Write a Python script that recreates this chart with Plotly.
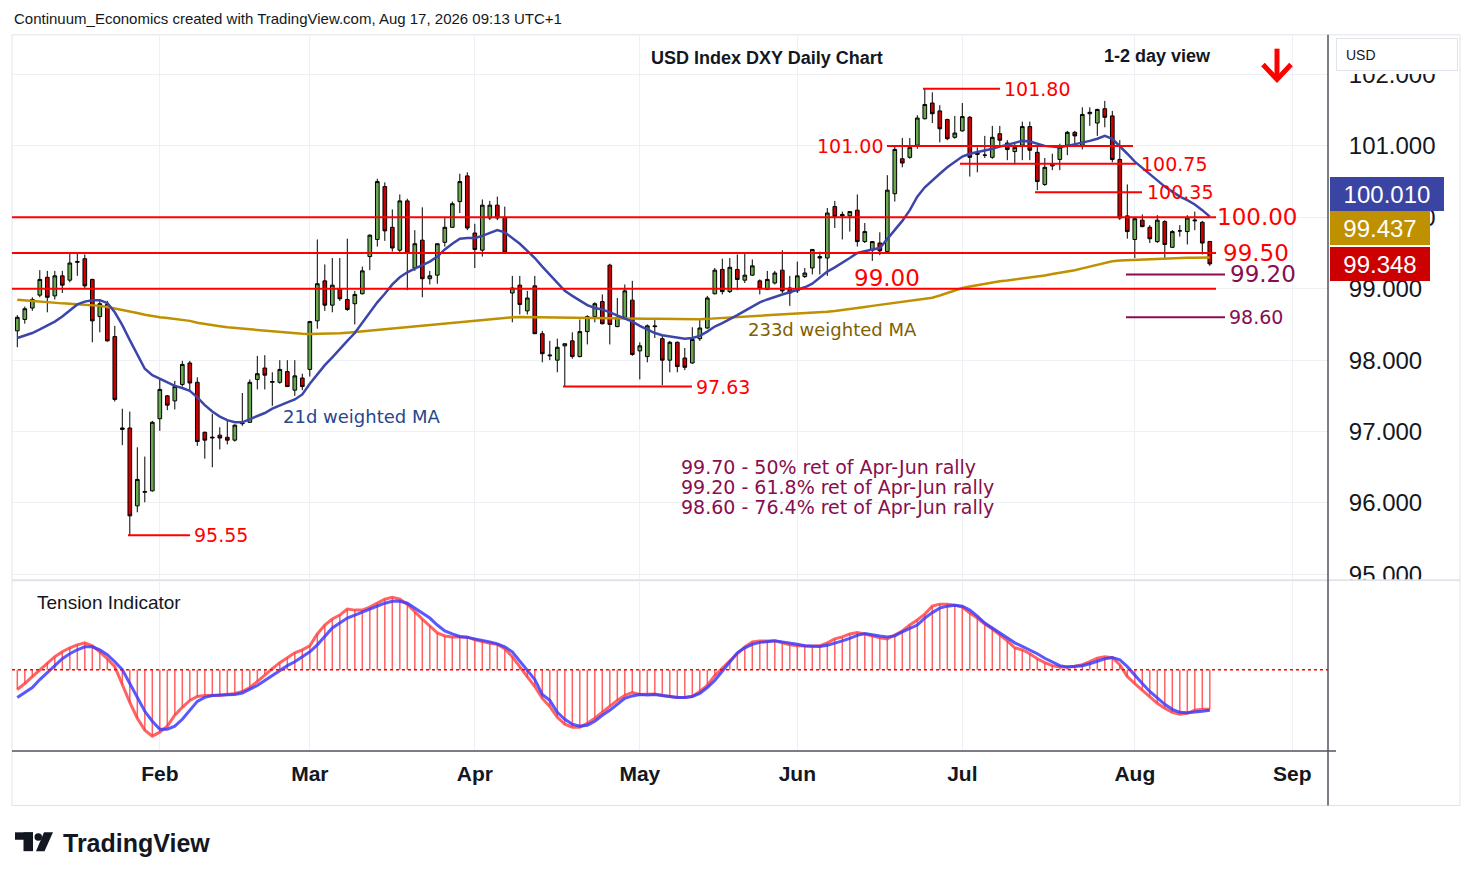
import pandas as pd
import plotly.graph_objects as go

W, H = 1474, 887
PAGE_PAD = 8  # the page body margin around the figure
FIG_W, FIG_H = W - 2 * PAGE_PAD, H - 2 * PAGE_PAD

# daily bars, Jan 6 - Aug 17 2026
dates = pd.bdate_range("2026-01-06", "2026-08-17")

opens = [98.41, 98.57, 98.73, 98.91, 99.16, 98.90, 99.18, 99.12, 99.37, 99.42,
         99.13, 98.61, 98.78, 98.33, 97.03, 97.05, 95.96, 96.15, 96.17, 97.18,
         97.50, 97.43, 97.66, 97.96, 97.69, 96.99, 96.91, 96.95, 96.92, 96.88,
         97.11, 97.13, 97.73, 97.89, 97.69, 97.69, 97.84, 97.58, 97.75, 97.87,
         98.55, 99.11, 98.77, 99.00, 98.85, 98.79, 98.93, 99.45, 99.69, 100.43,
         99.86, 99.54, 100.23, 99.29, 99.68, 99.14, 99.19, 99.65, 99.86, 100.22,
         100.58, 99.78, 99.54, 99.99, 100.17, 100.00, 98.94, 99.05, 98.69, 99.04,
         98.37, 98.06, 98.00, 98.20, 98.27, 98.05, 98.40, 98.61, 98.82, 99.33,
         98.47, 98.60, 98.84, 98.13, 98.05, 98.48, 98.30, 98.00, 98.25, 98.03,
         97.96, 98.30, 98.45, 98.93, 99.27, 98.96, 99.27, 99.12, 99.19, 99.11,
         98.99, 99.08, 99.26, 99.01, 98.97, 99.17, 99.29, 99.45, 99.43, 100.15,
         100.04, 100.02, 100.10, 99.66, 99.54, 99.64, 99.52, 100.33, 100.82, 100.84,
         101.01, 101.38, 101.60, 101.49, 101.37, 101.12, 101.21, 101.40, 100.91, 100.87,
         100.84, 101.17, 101.04, 100.92, 101.01, 101.27, 100.91, 100.46, 100.72, 100.81,
         101.01, 101.19, 101.01, 101.45, 101.32, 101.52, 101.42, 100.81, 100.02, 99.69,
         99.96, 99.86, 99.66, 99.94, 99.58, 99.81, 99.80, 99.95, 99.93, 99.662]

highs = [98.63, 98.75, 98.88, 99.26, 99.25, 99.25, 99.25, 99.50, 99.50, 99.48,
         99.14, 98.85, 98.83, 98.48, 97.32, 97.28, 96.78, 96.65, 97.15, 97.73,
         97.51, 97.71, 97.99, 97.99, 97.76, 97.00, 97.25, 97.06, 97.15, 97.10,
         97.54, 97.73, 98.06, 98.07, 97.83, 98.00, 98.00, 98.00, 97.81, 98.55,
         99.69, 99.34, 99.43, 99.43, 99.70, 98.97, 99.31, 99.76, 100.54, 100.49,
         100.11, 100.32, 100.26, 99.82, 100.14, 99.25, 99.63, 99.99, 100.22, 100.61,
         100.63, 99.91, 100.25, 100.23, 100.29, 100.15, 99.18, 99.18, 98.97, 99.18,
         98.41, 98.27, 98.30, 98.23, 98.39, 98.57, 98.63, 98.81, 98.92, 99.35,
         98.87, 99.06, 99.11, 98.25, 98.50, 98.57, 98.34, 98.27, 98.26, 98.17,
         98.46, 98.59, 98.90, 99.29, 99.42, 99.43, 99.48, 99.50, 99.41, 99.13,
         99.25, 99.25, 99.54, 99.18, 99.38, 99.29, 99.55, 99.52, 100.13, 100.23,
         100.08, 100.08, 100.32, 99.92, 99.66, 99.79, 100.59, 101.01, 101.11, 101.11,
         101.43, 101.80, 101.75, 101.57, 101.38, 101.42, 101.60, 101.42, 100.98, 101.14,
         101.28, 101.28, 101.08, 101.03, 101.34, 101.34, 101.01, 100.83, 100.89, 101.03,
         101.21, 101.21, 101.54, 101.54, 101.52, 101.63, 101.49, 101.08, 100.46, 99.99,
         100.04, 99.89, 100.03, 99.96, 99.82, 99.89, 100.03, 100.08, 99.95, 99.662]

lows = [98.18, 98.51, 98.69, 98.88, 98.67, 98.85, 98.94, 99.09, 99.18, 99.01,
        98.25, 98.39, 98.26, 97.42, 96.81, 95.55, 95.87, 96.01, 96.16, 97.01,
        97.30, 97.31, 97.63, 97.57, 96.80, 96.62, 96.50, 96.75, 96.82, 96.86,
        97.08, 97.12, 97.59, 97.59, 97.36, 97.67, 97.63, 97.50, 97.58, 97.77,
        98.44, 98.69, 98.67, 98.83, 98.69, 98.50, 98.92, 99.26, 99.59, 99.67,
        99.52, 99.50, 98.98, 99.25, 98.88, 99.06, 99.07, 99.59, 99.85, 100.06,
        99.82, 99.29, 99.45, 99.96, 99.96, 99.50, 98.53, 98.64, 98.64, 98.37,
        97.97, 98.00, 97.83, 97.63, 98.02, 98.04, 98.22, 98.53, 98.50, 98.22,
        98.46, 98.57, 98.06, 97.73, 97.97, 98.31, 97.65, 97.83, 97.83, 97.86,
        97.95, 98.27, 98.44, 98.92, 98.92, 98.94, 98.98, 99.08, 99.18, 98.92,
        98.98, 99.06, 98.94, 98.76, 98.94, 99.15, 99.20, 99.20, 99.18, 99.85,
        99.69, 99.80, 99.59, 99.64, 99.39, 99.47, 99.51, 100.22, 100.70, 100.82,
        100.96, 101.37, 101.32, 101.05, 101.08, 101.10, 101.20, 100.57, 100.63, 100.83,
        100.82, 101.01, 100.80, 100.74, 100.80, 100.80, 100.38, 100.44, 100.66, 100.66,
        100.87, 101.03, 100.95, 101.28, 101.14, 101.26, 100.77, 99.96, 99.70, 99.43,
        99.86, 99.64, 99.64, 99.41, 99.57, 99.73, 99.62, 99.82, 99.48, 99.32]

closes = [98.60, 98.72, 98.85, 99.13, 98.88, 99.18, 99.05, 99.36, 99.38, 99.04,
          98.55, 98.79, 98.27, 97.45, 97.05, 95.82, 96.33, 96.16, 97.13, 97.59,
          97.37, 97.63, 97.94, 97.68, 96.86, 96.88, 96.92, 96.91, 96.88, 97.09,
          97.12, 97.69, 97.81, 97.79, 97.70, 97.87, 97.63, 97.78, 97.63, 98.54,
          99.07, 98.77, 99.05, 98.86, 98.71, 98.92, 99.25, 99.75, 100.50, 99.81,
          99.57, 100.23, 99.50, 99.63, 99.14, 99.18, 99.63, 99.86, 100.19, 100.50,
          99.85, 99.55, 100.17, 100.17, 99.99, 99.51, 99.01, 98.78, 98.87, 98.37,
          98.09, 98.07, 98.18, 98.23, 98.05, 98.40, 98.61, 98.79, 98.51, 98.50,
          98.60, 98.97, 98.08, 98.20, 98.48, 98.47, 98.00, 98.25, 97.91, 97.90,
          98.29, 98.45, 98.87, 99.26, 98.96, 99.30, 99.13, 99.19, 99.32, 99.00,
          99.13, 99.22, 98.97, 98.94, 99.18, 99.22, 99.55, 99.43, 100.06, 100.01,
          100.02, 100.08, 99.66, 99.80, 99.66, 99.53, 100.38, 100.95, 100.76, 100.98,
          101.39, 101.58, 101.45, 101.24, 101.10, 101.18, 101.41, 100.84, 100.88, 100.87,
          101.12, 101.08, 100.95, 100.98, 101.27, 100.94, 100.50, 100.70, 100.75, 100.98,
          101.19, 101.14, 101.44, 101.47, 101.51, 101.40, 100.81, 99.99, 99.80, 99.98,
          99.87, 99.70, 99.96, 99.62, 99.80, 99.81, 99.99, 99.96, 99.64, 99.348]

wma21 = [98.31, 98.34, 98.38, 98.43, 98.48, 98.54, 98.61, 98.70, 98.78, 98.82,
         98.84, 98.84, 98.80, 98.67, 98.49, 98.28, 98.07, 97.88, 97.79, 97.74,
         97.69, 97.64, 97.61, 97.57, 97.48, 97.37, 97.28, 97.21, 97.16, 97.13,
         97.13, 97.17, 97.21, 97.26, 97.32, 97.37, 97.41, 97.45, 97.52, 97.67,
         97.80, 97.93, 98.04, 98.16, 98.27, 98.38, 98.52, 98.67, 98.81, 98.93,
         99.06, 99.16, 99.23, 99.28, 99.33, 99.38, 99.45, 99.55, 99.63, 99.70,
         99.71, 99.71, 99.74, 99.78, 99.82, 99.79, 99.71, 99.63, 99.53, 99.43,
         99.31, 99.20, 99.08, 98.97, 98.90, 98.83, 98.77, 98.73, 98.71, 98.67,
         98.63, 98.59, 98.54, 98.48, 98.43, 98.38, 98.35, 98.33, 98.31, 98.30,
         98.31, 98.34, 98.40, 98.47, 98.52, 98.57, 98.63, 98.69, 98.75, 98.81,
         98.85, 98.89, 98.92, 98.95, 98.98, 99.02, 99.07, 99.15, 99.24, 99.30,
         99.36, 99.43, 99.50, 99.53, 99.55, 99.57, 99.70, 99.83, 99.95, 100.10,
         100.29, 100.42, 100.52, 100.61, 100.70, 100.78, 100.85, 100.89, 100.91, 100.94,
         100.96, 100.99, 101.02, 101.04, 101.07, 101.06, 101.03, 101.00, 100.99, 100.98,
         101.00, 101.02, 101.05, 101.07, 101.10, 101.14, 101.10, 101.00, 100.89, 100.78,
         100.69, 100.60, 100.52, 100.43, 100.36, 100.29, 100.24, 100.18, 100.10, 100.01]

wma233 = [98.845, 98.835, 98.825, 98.815, 98.81, 98.80, 98.795, 98.79, 98.785, 98.775,
          98.765, 98.76, 98.745, 98.725, 98.71, 98.68, 98.66, 98.635, 98.615, 98.60,
          98.59, 98.58, 98.57, 98.55, 98.525, 98.505, 98.49, 98.475, 98.46, 98.45,
          98.445, 98.435, 98.425, 98.415, 98.405, 98.395, 98.385, 98.375, 98.368, 98.365,
          98.365, 98.368, 98.37, 98.375, 98.385, 98.395, 98.405, 98.415, 98.425, 98.435,
          98.45, 98.46, 98.47, 98.478, 98.485, 98.492, 98.50, 98.51, 98.52, 98.53,
          98.54, 98.55, 98.56, 98.575, 98.59, 98.597, 98.60, 98.605, 98.603, 98.60,
          98.598, 98.597, 98.597, 98.597, 98.595, 98.593, 98.59, 98.588, 98.587, 98.586,
          98.585, 98.584, 98.583, 98.582, 98.58, 98.58, 98.578, 98.577, 98.576, 98.575,
          98.574, 98.574, 98.578, 98.584, 98.59, 98.595, 98.60, 98.605, 98.61, 98.615,
          98.62, 98.627, 98.635, 98.642, 98.65, 98.657, 98.665, 98.672, 98.678, 98.688,
          98.70, 98.715, 98.73, 98.745, 98.76, 98.775, 98.79, 98.805, 98.82, 98.835,
          98.85, 98.862, 98.875, 98.905, 98.94, 98.975, 99.01, 99.03, 99.05, 99.07,
          99.09, 99.105, 99.115, 99.128, 99.14, 99.152, 99.168, 99.185, 99.205, 99.222,
          99.24, 99.26, 99.285, 99.31, 99.335, 99.36, 99.385, 99.395, 99.40, 99.405,
          99.41, 99.415, 99.42, 99.425, 99.428, 99.43, 99.432, 99.434, 99.436, 99.437]

tension = [-20, -14, -7, 0, 7, 13, 18, 22, 25, 27,
           24, 18, 11, 3, -15, -33, -49, -61, -67, -63,
           -57, -46, -38, -31, -27, -26, -26, -26, -25, -24,
           -22, -18, -12, -5, 1, 7, 12, 17, 20, 24,
           36, 45, 51, 55, 61, 60, 60, 63, 67, 71,
           73, 71, 66, 58, 51, 44, 37, 34, 33, 33,
           33, 30, 28, 26.5, 25.5, 21, 13, 3, -8, -17,
           -29, -37, -48, -55, -58, -58, -54, -49, -43, -37,
           -31, -26, -23, -25, -24.5, -24.5, -26, -27, -28, -28,
           -27, -22, -16, -6, 2, 9, 16, 23, 28, 29,
           29, 29, 27, 25, 24, 23.5, 23.5, 24, 27, 31,
           33, 36, 37.5, 36, 34, 32, 31, 35, 39, 45,
           50, 56, 64, 66, 66, 65, 63, 57, 52, 46,
           41, 35, 29, 22, 20, 16, 11, 7, 4, 2.7,
           2.7, 3.5, 5, 8, 11.5, 13, 12, 5, -7, -14,
           -21, -27, -34, -39, -43, -45, -44, -41, -40, -40]

tension_signal = [-28, -23, -18, -10, -3, 5, 11, 16, 20, 23,
                  23, 20, 15, 8, 0, -14, -28, -42, -52, -60,
                  -60, -57, -50, -41, -32, -28, -26, -25.5, -25, -25,
                  -23.5, -20, -16, -11, -6, -1, 4, 8, 13, 18,
                  25, 34, 42, 47, 52, 55, 58, 61, 64, 67,
                  69, 69, 67, 62, 57, 52, 45, 39, 36, 33.5,
                  32.5, 31, 30, 28, 26, 23, 18, 9, 0, -10,
                  -25, -31, -43, -50, -55, -57, -56, -52, -46, -41,
                  -35, -29, -26.5, -25, -25.5, -25, -26, -27, -28, -28,
                  -27, -24, -18, -11, -2, 8, 17, 22, 25.5, 27.5,
                  28.5, 29, 28, 27, 25.5, 24, 23.5, 23.3, 24.5, 26.5,
                  29, 31.5, 34.5, 36.5, 35, 34, 33, 34, 38, 41.5,
                  45, 52, 57.5, 62, 64, 65, 64, 60, 54, 47,
                  42, 37, 32, 27, 23.5, 20, 16, 11.5, 7.5, 4,
                  2.7, 3.2, 4, 6, 8.5, 11, 12.3, 10, 3, -6,
                  -14, -22, -29, -35, -40, -43, -43.5, -43, -42, -41]

month_ticks = ["2026-02-02", "2026-03-02", "2026-04-01", "2026-05-01",
               "2026-06-01", "2026-07-01", "2026-08-03", "2026-09-01"]
month_labels = ["Feb", "Mar", "Apr", "May", "Jun", "Jul", "Aug", "Sep"]
price_ticks = [95, 96, 97, 98, 99, 100, 101, 102]
price_labels = ["95.000", "96.000", "97.000", "98.000", "99.000", "100.000", "101.000", "102.000"]

red_levels = [101.80, 101.00, 100.75, 100.35, 100.00, 99.50, 99.00, 97.63, 95.55]
fib_levels = [99.20, 98.60]
fib_notes = ["99.70 - 50% ret of Apr-Jun rally",
             "99.20 - 61.8% ret of Apr-Jun rally",
             "98.60 - 76.4% ret of Apr-Jun rally"]

# drawing geometry (screen pixels) for the level lines and their labels
red_spans = [(923, 1000), (887, 1133), (960, 1136), (1035, 1142), (12, 1216),
             (12, 1216), (12, 1216), (563, 692), (128, 190)]
red_label_x = [1003, 816, 1140, 1146, 1216, 1222, 853, 695, 193]
red_label_size = [19, 19, 19, 19, 23, 23, 23, 19, 19]
red_label_shift = [0, 0, 0, 0, 0, 0, 11, 0, 0]
fib_spans = [(1126, 1225), (1126, 1225)]
fib_label_x = [1229, 1228]
fib_label_size = [23, 19]

RED = "#ff0000"
PURPLE = "#880e4f"
GRID = "#edf0f5"
TEXT = "#131722"
UI = "Liberation Sans"
DRAW = "DejaVu Sans"


def xp(x):
    return (x - PAGE_PAD) / FIG_W


def yp(y):
    return 1 - (y - PAGE_PAD) / FIG_H


x_range = ["2026-01-05 07:00", "2026-09-07 18:15"]

fig = go.Figure()

fig.add_trace(go.Candlestick(
    x=dates, open=opens, high=highs, low=lows, close=closes,
    increasing=dict(fillcolor="#6aa84f", line=dict(color="#000000", width=1)),
    decreasing=dict(fillcolor="#cc0000", line=dict(color="#000000", width=1)),
    whiskerwidth=0, hoverinfo="skip", showlegend=False,
))
fig.add_trace(go.Scatter(x=dates, y=wma233, mode="lines",
                         line=dict(color="#bf9000", width=2.5), hoverinfo="skip", showlegend=False))
fig.add_trace(go.Scatter(x=dates, y=wma21, mode="lines",
                         line=dict(color="#3c46a8", width=2.5), hoverinfo="skip", showlegend=False))

# tension indicator
fig.add_trace(go.Bar(x=dates, y=tension, width=0.2 * 86400000, xaxis="x2", yaxis="y2",
                     marker=dict(color="rgba(255,70,70,0.85)", line=dict(width=0)),
                     hoverinfo="skip", showlegend=False))
fig.add_trace(go.Scatter(x=dates, y=tension, mode="lines", xaxis="x2", yaxis="y2",
                         line=dict(color="rgba(255,60,60,0.8)", width=3), hoverinfo="skip", showlegend=False))
fig.add_trace(go.Scatter(x=dates, y=tension_signal, mode="lines", xaxis="x2", yaxis="y2",
                         line=dict(color="rgba(60,60,255,0.85)", width=3), hoverinfo="skip", showlegend=False))

shapes = []
annotations = []

# frame and panel separators
shapes.append(dict(type="rect", xref="paper", yref="paper", x0=xp(12), x1=xp(1460), y0=yp(812), y1=yp(35),
                   line=dict(color="#e0e3eb", width=1), layer="below"))
shapes.append(dict(type="line", xref="paper", yref="paper", x0=xp(12), x1=xp(1460), y0=yp(585), y1=yp(585),
                   line=dict(color="#e0e3eb", width=2)))
shapes.append(dict(type="line", xref="paper", yref="paper", x0=xp(12), x1=xp(1336), y0=yp(757), y1=yp(757),
                   line=dict(color="#50535e", width=1.5)))
shapes.append(dict(type="line", xref="paper", yref="paper", x0=xp(1328), x1=xp(1328), y0=yp(812), y1=yp(35),
                   line=dict(color="#50535e", width=1.5)))
shapes.append(dict(type="line", xref="paper", yref="y2", x0=xp(12), x1=xp(1328), y0=0, y1=0,
                   line=dict(color=RED, width=1.5, dash="dot")))

for lvl, (x0, x1), lx, sz, sh in zip(red_levels, red_spans, red_label_x, red_label_size, red_label_shift):
    shapes.append(dict(type="line", xref="paper", yref="y", x0=xp(x0), x1=xp(x1), y0=lvl, y1=lvl,
                       line=dict(color=RED, width=2), layer="above"))
    annotations.append(dict(x=xp(lx), y=lvl, xref="paper", yref="y", text=f"{lvl:.2f}", showarrow=False,
                            xanchor="left", yanchor="middle", yshift=sh, borderpad=0,
                            font=dict(family=DRAW, size=sz, color=RED)))

for lvl, (x0, x1), lx, sz in zip(fib_levels, fib_spans, fib_label_x, fib_label_size):
    shapes.append(dict(type="line", xref="paper", yref="y", x0=xp(x0), x1=xp(x1), y0=lvl, y1=lvl,
                       line=dict(color=PURPLE, width=2), layer="above"))
    annotations.append(dict(x=xp(lx), y=lvl, xref="paper", yref="y", text=f"{lvl:.2f}", showarrow=False,
                            xanchor="left", yanchor="middle", borderpad=0,
                            font=dict(family=DRAW, size=sz, color=PURPLE)))

for note, ty in zip(fib_notes, [471, 491, 511]):
    annotations.append(dict(x=xp(680), y=yp(ty), xref="paper", yref="paper", text=note, showarrow=False,
                            xanchor="left", yanchor="middle", borderpad=0,
                            font=dict(family=DRAW, size=19, color=PURPLE)))

annotations.append(dict(x=xp(282), y=yp(420), xref="paper", yref="paper", text="21d weighted MA",
                        showarrow=False, xanchor="left", yanchor="middle", borderpad=0,
                        font=dict(family=DRAW, size=18, color="#27468c")))
annotations.append(dict(x=xp(747), y=yp(332), xref="paper", yref="paper", text="233d weighted MA",
                        showarrow=False, xanchor="left", yanchor="middle", borderpad=0,
                        font=dict(family=DRAW, size=18, color="#7f6000")))

# titles
annotations.append(dict(x=xp(12), y=yp(19), xref="paper", yref="paper",
                        text="Continuum_Economics created with TradingView.com, Aug 17, 2026 09:13 UTC+1",
                        showarrow=False, xanchor="left", yanchor="middle",
                        font=dict(family=UI, size=15, color=TEXT)))
annotations.append(dict(x=xp(767), y=yp(58), xref="paper", yref="paper", text="<b>USD Index DXY Daily Chart</b>",
                        showarrow=False, xanchor="center", yanchor="middle",
                        font=dict(family=UI, size=18, color=TEXT)))
annotations.append(dict(x=xp(1157), y=yp(56), xref="paper", yref="paper", text="<b>1-2 day view</b>",
                        showarrow=False, xanchor="center", yanchor="middle",
                        font=dict(family=UI, size=18, color=TEXT)))
annotations.append(dict(x=xp(35), y=yp(607), xref="paper", yref="paper", text="Tension Indicator",
                        showarrow=False, xanchor="left", yanchor="middle",
                        font=dict(family=UI, size=19, color=TEXT)))

# down arrow
shapes.append(dict(type="line", xref="paper", yref="paper", x0=xp(1277), x1=xp(1277), y0=yp(49), y1=yp(79),
                   line=dict(color=RED, width=5)))
shapes.append(dict(type="path", xref="paper", yref="paper",
                   path=f"M {xp(1263)} {yp(65)} L {xp(1277)} {yp(80)} L {xp(1291)} {yp(65)}",
                   line=dict(color=RED, width=5)))

# price scale covers and last-value tags
annotations.append(dict(x=xp(1331), y=yp(55), xref="paper", yref="paper", text="", showarrow=False,
                        xanchor="left", yanchor="middle", width=128, height=38, bgcolor="#ffffff",
                        borderpad=0, borderwidth=0))
annotations.append(dict(x=xp(1336), y=yp(55), xref="paper", yref="paper", text="USD", showarrow=False,
                        xanchor="left", yanchor="middle", width=102, height=13, align="left",
                        bgcolor="#ffffff", bordercolor="#e0e3eb", borderwidth=1, borderpad=9,
                        font=dict(family=UI, size=14, color=TEXT)))
annotations.append(dict(x=xp(1331), y=yp(596), xref="paper", yref="paper", text="", showarrow=False,
                        xanchor="left", yanchor="middle", width=126, height=20, bgcolor="#ffffff",
                        borderpad=0, borderwidth=0))

tags = [(wma21[-1], "#3a44a3", 195.5, 114), (wma233[-1], "#bf9000", 230, 100), (closes[-1], "#cc0000", 266, 100)]
for val, col, ty, wd in tags:
    annotations.append(dict(x=xp(1330), y=yp(ty), xref="paper", yref="paper", text=f"{val:.3f}",
                            showarrow=False, xanchor="left", yanchor="middle", width=wd, height=34,
                            bgcolor=col, borderpad=0, borderwidth=0, align="center",
                            font=dict(family=UI, size=24, color="#ffffff")))

# TradingView logo
shapes.append(dict(type="rect", xref="paper", yref="paper", x0=xp(15), x1=xp(33), y0=yp(846.5), y1=yp(839),
                   fillcolor=TEXT, line=dict(width=0)))
shapes.append(dict(type="rect", xref="paper", yref="paper", x0=xp(23.5), x1=xp(33), y0=yp(858), y1=yp(839),
                   fillcolor=TEXT, line=dict(width=0)))
shapes.append(dict(type="circle", xref="paper", yref="paper", x0=xp(34.5), x1=xp(42), y0=yp(847.5), y1=yp(840),
                   fillcolor=TEXT, line=dict(width=0)))
shapes.append(dict(type="path", xref="paper", yref="paper",
                   path=(f"M {xp(36)} {yp(858)} L {xp(44.5)} {yp(858)} L {xp(53)} {yp(839)} "
                         f"L {xp(44)} {yp(839)} Z"),
                   fillcolor=TEXT, line=dict(width=0)))
annotations.append(dict(x=xp(61), y=yp(850), xref="paper", yref="paper", text="<b>TradingView</b>",
                        showarrow=False, xanchor="left", yanchor="middle",
                        font=dict(family=UI, size=25, color=TEXT)))

xdom = [xp(12), xp(1328)]
fig.update_layout(
    width=FIG_W, height=FIG_H,
    margin=dict(l=0, r=0, t=0, b=0),
    paper_bgcolor="#ffffff", plot_bgcolor="#ffffff",
    showlegend=False,
    xaxis=dict(domain=xdom, anchor="y", type="date", range=x_range,
               rangebreaks=[dict(bounds=["sat", "mon"])],
               tickvals=month_ticks, ticktext=month_labels, showticklabels=False,
               showgrid=True, gridcolor=GRID, zeroline=False, rangeslider=dict(visible=False),
               fixedrange=True),
    yaxis=dict(domain=[yp(585), yp(35)], anchor="x", side="right", range=[94.9167, 102.5556],
               tickvals=price_ticks, ticktext=price_labels, showgrid=True, gridcolor=GRID,
               zeroline=False, ticks="outside", ticklen=15, tickcolor="rgba(0,0,0,0)",
               tickfont=dict(family=UI, size=24, color=TEXT), fixedrange=True),
    xaxis2=dict(domain=xdom, anchor="y2", type="date", range=x_range,
                rangebreaks=[dict(bounds=["sat", "mon"])],
                tickvals=month_ticks, ticktext=month_labels, showticklabels=True,
                ticks="outside", ticklen=4, tickcolor="rgba(0,0,0,0)",
                tickfont=dict(family=UI, size=21, color=TEXT, weight="bold"),
                showgrid=True, gridcolor=GRID, zeroline=False, fixedrange=True),
    yaxis2=dict(domain=[yp(757), yp(587)], anchor="x2", side="right", range=[-82, 88],
                showticklabels=False, showgrid=False, zeroline=False, fixedrange=True),
    shapes=shapes,
    annotations=annotations,
)

fig.write_html("out.html", config={"displayModeBar": False, "staticPlot": True})
